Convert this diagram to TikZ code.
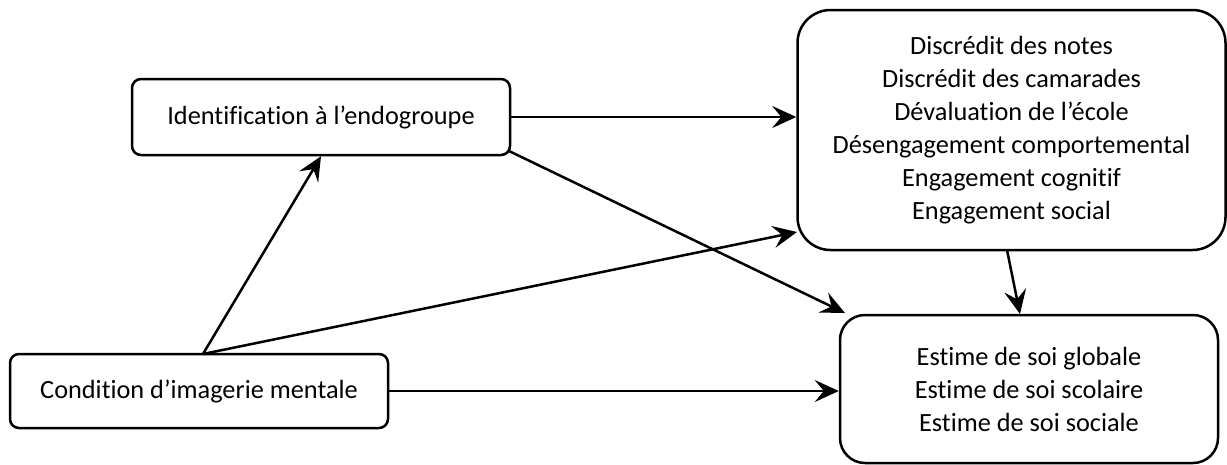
\documentclass[tikz,border=0pt]{standalone}
\usepackage{fontspec}
\setmainfont{Carlito}[Ligatures={NoCommon}]
\usetikzlibrary{arrows.meta}
\begin{document}
\begin{tikzpicture}[x=1pt,y=-1pt,
  box/.style={draw, line width=2.5pt, align=center, inner sep=0pt,
    font=\fontsize{26.3}{33}\selectfont},
  conn/.style={line width=2.5pt, -{Stealth[length=24pt,width=22pt,inset=9pt]}}]
\useasboundingbox (0,0) rectangle (1227,464);
\node[box, rounded corners=9pt, minimum width=378pt, minimum height=76pt] (ident) at (321,117) {Identification à l’endogroupe};
\node[box, rounded corners=9pt, minimum width=378pt, minimum height=74pt] (cond) at (199,391) {Condition d’imagerie mentale};
\node[box, rounded corners=33pt, minimum width=428pt, minimum height=240pt] (out) at (1011.5,130) {Discrédit des notes\\Discrédit des camarades\\Dévaluation de l’école\\Désengagement comportemental\\Engagement cognitif\\Engagement social};
\node[box, rounded corners=25pt, minimum width=378pt, minimum height=148pt] (est) at (1029,389) {Estime de soi globale\\Estime de soi scolaire\\Estime de soi sociale};
\coordinate (condtop) at (203,354);
\coordinate (identcorner) at (509,151);
\coordinate (esttl) at (845,313);
\coordinate (outbl) at (797,232);
\coordinate (outb) at (1007,250);
\coordinate (estt) at (1020,314);
\draw[conn] (ident.east) -- (ident.east -| out.west);
\draw[conn] (identcorner) -- (esttl);
\draw[conn] (condtop) -- (ident.south);
\draw[conn] (condtop) -- (outbl);
\draw[conn] (cond.east) -- (cond.east -| est.west);
\draw[conn] (outb) -- (estt);
\end{tikzpicture}
\end{document}
